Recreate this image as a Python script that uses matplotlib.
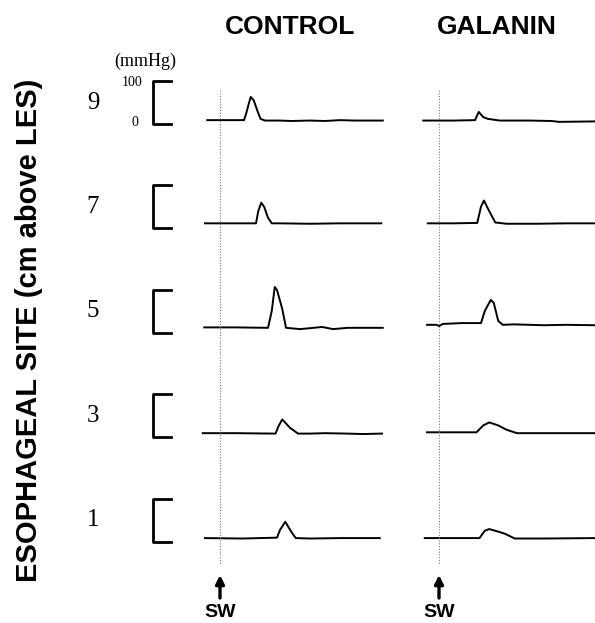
import matplotlib
matplotlib.use('Agg')
import matplotlib.pyplot as plt

# Sitios esofágicos (cm acima do EEI)
sites = [9, 7, 5, 3, 1]
columns = ['CONTROL', 'GALANIN']

# Traçados de pressão: tempo (s, 0 = deglutição) e pressão (mmHg)
ctl9_t = [-1.7, 1.0, 3.2, 3.5, 3.8, 4.1, 4.5, 5.0, 5.4, 6.0, 8.0, 9.5, 12.0, 14.0, 16.0, 18.0, 20.0, 21.7]
ctl9_p = [9, 9, 9, 25, 45, 63, 55, 30, 12, 8, 8, 7, 8, 7, 9, 8, 8, 8]
ctl7_t = [-2.0, 1.0, 4.8, 5.1, 5.5, 5.9, 6.4, 6.9, 8.0, 12.0, 16.0, 21.5]
ctl7_p = [12, 12, 12, 40, 60, 50, 25, 12, 12, 11, 12, 12]
ctl5_t = [-2.1, 2.0, 6.4, 6.9, 7.3, 7.6, 8.3, 8.8, 10.7, 12.5, 13.6, 15.1, 17.0, 19.0, 21.7]
ctl5_p = [13, 13, 12, 51, 107, 100, 56, 12, 9, 12, 14, 9, 12, 12, 12]
ctl3_t = [-2.3, 2.0, 7.4, 7.8, 8.3, 9.3, 10.4, 12.0, 14.0, 17.0, 19.0, 21.6]
ctl3_p = [10, 10, 9, 26, 42, 23, 9, 9, 10, 9, 8, 9]
ctl1_t = [-2.0, 3.0, 7.6, 8.0, 8.7, 9.6, 10.1, 12.0, 16.0, 21.3]
ctl1_p = [9, 8, 10, 28, 47, 21, 9, 8, 9, 9]

gal9_t = [-2.1, 2.0, 4.8, 5.3, 5.9, 6.5, 8.1, 12.0, 15.0, 16.0, 20.8]
gal9_p = [8, 8, 9, 28, 16, 12, 8, 8, 7, 5, 6]
gal7_t = [-1.5, 2.0, 5.1, 5.6, 6.0, 6.5, 7.5, 9.0, 13.0, 17.0, 20.8]
gal7_p = [12, 12, 13, 51, 65, 47, 14, 11, 11, 12, 12]
gal5_t = [-1.6, -0.3, 0.0, 0.5, 3.0, 5.6, 6.1, 6.9, 7.3, 7.9, 8.5, 10.0, 14.0, 17.0, 20.8]
gal5_p = [19, 19, 16, 21, 23, 23, 51, 77, 70, 28, 19, 20, 18, 19, 18]
gal3_t = [-1.6, 3.0, 5.0, 5.9, 6.7, 7.9, 9.0, 10.4, 14.0, 20.8]
gal3_p = [12, 12, 12, 28, 35, 28, 18, 10, 10, 10]
gal1_t = [-1.9, 3.0, 5.4, 6.1, 6.7, 8.1, 8.8, 10.1, 14.0, 20.8]
gal1_p = [9, 9, 9, 26, 30, 23, 19, 8, 8, 9]

control = [(ctl9_t, ctl9_p), (ctl7_t, ctl7_p), (ctl5_t, ctl5_p), (ctl3_t, ctl3_p), (ctl1_t, ctl1_p)]
galanin = [(gal9_t, gal9_p), (gal7_t, gal7_p), (gal5_t, gal5_p), (gal3_t, gal3_p), (gal1_t, gal1_p)]

# Layout: figura em pixels, 0.43 px por mmHg, 7.5 px por segundo
W, H = 595, 623
px_mmhg = 0.43
px_s = 7.5
row_gap = 243          # mmHg entre linhas
top0 = 124             # pixel do zero da primeira linha
ylim = ((top0 - H) / px_mmhg, top0 / px_mmhg)

fig = plt.figure(figsize=(W / 100, H / 100), dpi=100)

def add_col(x0, x1, sw):
    ax = fig.add_axes([x0 / W, 0, (x1 - x0) / W, 1])
    ax.set_xlim((x0 - sw) / px_s, (x1 - sw) / px_s)
    ax.set_ylim(*ylim)
    ax.axis('off')
    return ax

ax_lab = fig.add_axes([0, 0, 195 / W, 1])
ax_lab.set_xlim(0, 195)
ax_lab.set_ylim(*ylim)
ax_lab.axis('off')

ax_c = add_col(195, 400, 220)
ax_g = add_col(410, 595, 439)

def y_px(p):
    return (top0 - p) / px_mmhg

for ax, traces, title, tx in [(ax_c, control, columns[0], 9.3), (ax_g, galanin, columns[1], 7.7)]:
    for k, (t, p) in enumerate(traces):
        off = -row_gap * k
        ax.plot(t, [v + off for v in p], color='black', lw=1.4, solid_joinstyle='round')
    # linha da deglutição
    ax.plot([0, 0], [y_px(90), y_px(564)], color='#777777', lw=0.8, linestyle=(0, (1, 1.5)))
    ax.text(tx, y_px(27), title, ha='center', va='center', fontsize=19,
            fontweight='bold', family='Liberation Sans')
    ax.annotate('', xy=(0, y_px(575)), xytext=(0, y_px(598)),
                arrowprops=dict(arrowstyle='-|>,head_length=0.5,head_width=0.25',
                                color='black', lw=2.4, shrinkA=0, shrinkB=0),
                annotation_clip=False)
    ax.text(0, y_px(613), 'SW', ha='center', va='center', fontsize=14,
            fontweight='bold', family='Liberation Sans')

# Escala e numeros dos sitios
for k, s in enumerate(sites):
    off = -row_gap * k
    ax_lab.plot([171, 153, 153, 171], [off + 100, off + 100, off, off], color='black', lw=2)
    ax_lab.text(93, off + 50, str(s), ha='center', va='center', fontsize=18, family='Liberation Serif')

ax_lab.text(135, y_px(122), '0', ha='center', va='center', fontsize=10, family='Liberation Serif')
ax_lab.text(132, y_px(82), '100', ha='center', va='center', fontsize=10, family='Liberation Serif')
ax_lab.text(145, y_px(61), '(mmHg)', ha='center', va='center', fontsize=13, family='Liberation Serif')

ax_lab.text(29, y_px(330), 'ESOPHAGEAL SITE (cm above LES)', rotation=90, ha='center', va='center',
            fontsize=21, fontweight='bold', family='Liberation Sans')

fig.savefig('out.png', dpi=100)
